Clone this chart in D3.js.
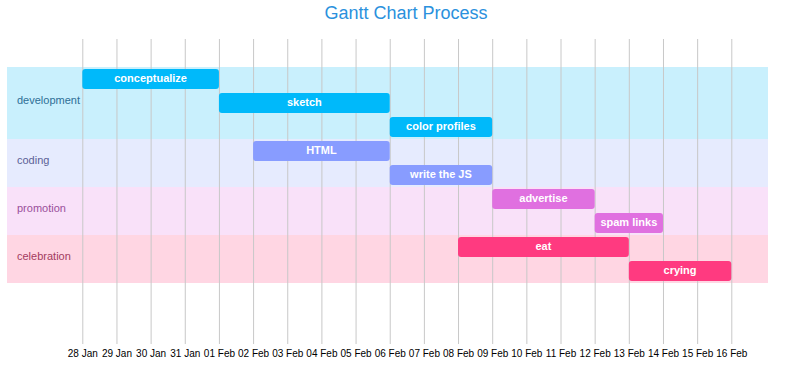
<!DOCTYPE html>
<html>
<head>
<meta charset="utf-8">
<script src="https://cdn.jsdelivr.net/npm/d3@7"></script>
<style>
  body { margin: 0; background: #fff; }
  svg { display: block; font-family: "Liberation Sans", Arial, sans-serif; }
</style>
</head>
<body>
<svg id="chart" width="800" height="379"></svg>
<script>
const title = "Gantt Chart Process";
const categories = ["development", "coding", "promotion", "celebration"];
const taskNames = ["conceptualize", "sketch", "color profiles", "HTML", "write the JS", "advertise", "spam links", "eat", "crying"];
const taskCategories = ["development", "development", "development", "coding", "coding", "promotion", "promotion", "celebration", "celebration"];
const taskStarts = ["2013-01-28", "2013-02-01", "2013-02-06", "2013-02-02", "2013-02-06", "2013-02-09", "2013-02-12", "2013-02-08", "2013-02-13"];
const taskEnds = ["2013-02-01", "2013-02-06", "2013-02-09", "2013-02-06", "2013-02-09", "2013-02-12", "2013-02-14", "2013-02-13", "2013-02-16"];
const axisStart = "2013-01-28";
const axisEnd = "2013-02-16";

const barColors = ["#00b9fa", "#889cff", "#e070e0", "#ff3a80"];
const bandColors = ["#c9f0fd", "#e6ebfe", "#f9e1f9", "#ffd6e3"];
const labelColors = ["#2e6f96", "#5b5f96", "#9a509b", "#a33c60"];

const parse = d3.timeParse("%Y-%m-%d");
const tasks = taskNames.map((n, i) => ({
  name: n, cat: taskCategories[i], start: parse(taskStarts[i]), end: parse(taskEnds[i]), row: i
}));

const svg = d3.select("#chart");
const x = d3.scaleTime().domain([parse(axisStart), parse(axisEnd)]).range([82.3, 731.3]);
const y = d3.scaleBand().domain(d3.range(tasks.length)).range([67, 67 + 24 * tasks.length]).paddingInner(0).paddingOuter(0);
const color = d3.scaleOrdinal().domain(categories).range(barColors);
const band = d3.scaleOrdinal().domain(categories).range(bandColors);
const lab = d3.scaleOrdinal().domain(categories).range(labelColors);

svg.append("text")
  .attr("x", 406).attr("y", 19)
  .attr("text-anchor", "middle")
  .attr("font-size", 18)
  .attr("fill", "#2b91dd")
  .text(title);

// category bands
const catInfo = categories.map(c => {
  const rows = tasks.filter(t => t.cat === c).map(t => t.row);
  return { cat: c, first: d3.min(rows), last: d3.max(rows) };
});
svg.append("g").selectAll("rect").data(catInfo).join("rect")
  .attr("x", 7).attr("width", 761)
  .attr("y", d => y(d.first))
  .attr("height", d => y(d.last) + y.bandwidth() - y(d.first))
  .attr("fill", d => band(d.cat));

// grid + axis
const axis = d3.axisBottom(x)
  .ticks(d3.timeDay.every(1))
  .tickFormat(d3.timeFormat("%d %b"))
  .tickSize(-(344 - 39))
  .tickPadding(6);
const gx = svg.append("g").attr("transform", "translate(0,344)").call(axis);
gx.select(".domain").remove();
gx.selectAll(".tick line").attr("stroke", "#c8c8c8").attr("stroke-width", 1);
gx.selectAll(".tick text").attr("font-size", 10).attr("fill", "#000").attr("font-family", "Liberation Sans, Arial, sans-serif");

// category labels
svg.append("g").selectAll("text").data(catInfo).join("text")
  .attr("x", 17)
  .attr("y", d => (y(d.first) + y(d.last) + y.bandwidth()) / 2 - 1.5)
  .attr("dominant-baseline", "middle")
  .attr("font-size", 11)
  .attr("fill", d => lab(d.cat))
  .text(d => d.cat);

// bars
const bars = svg.append("g").selectAll("g").data(tasks).join("g");
bars.append("rect")
  .attr("x", d => x(d.start))
  .attr("y", d => y(d.row) + 2)
  .attr("width", d => x(d.end) - x(d.start))
  .attr("height", 20)
  .attr("rx", 3).attr("ry", 3)
  .attr("fill", d => color(d.cat));
bars.append("text")
  .attr("x", d => (x(d.start) + x(d.end)) / 2)
  .attr("y", d => y(d.row) + 12)
  .attr("dominant-baseline", "middle")
  .attr("text-anchor", "middle")
  .attr("font-size", 11)
  .attr("font-weight", "bold")
  .attr("fill", "#fff")
  .text(d => d.name);
</script>
</body>
</html>
